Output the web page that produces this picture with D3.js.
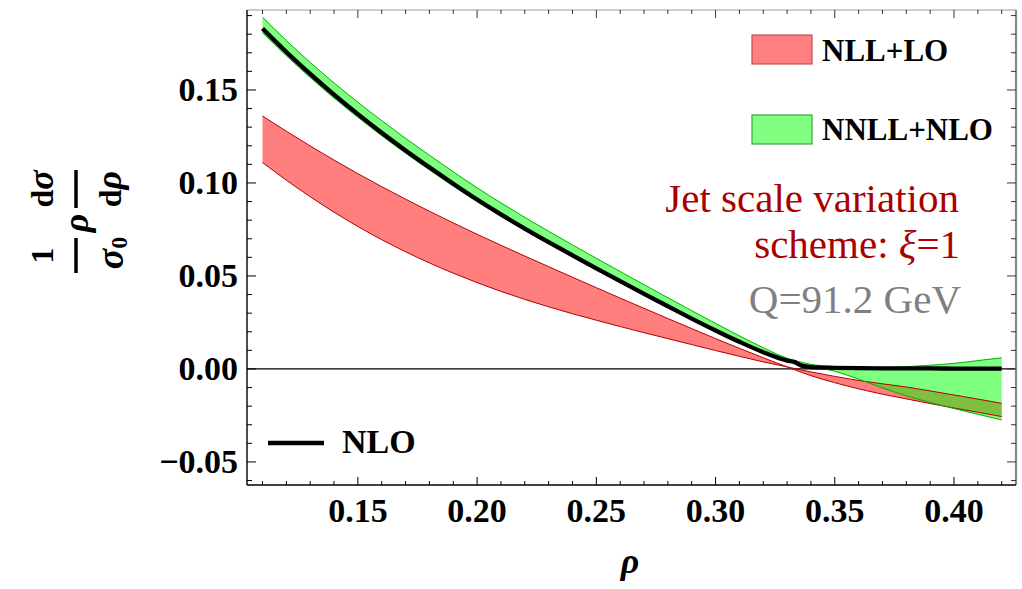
<!DOCTYPE html>
<html><head><meta charset="utf-8">
<script src="https://cdn.jsdelivr.net/npm/d3@7"></script>
<style>body{margin:0;background:#fff}svg{display:block}</style>
</head><body><svg id="c" width="1022" height="589"></svg>
<script>
// ---- data ----
const rho = [0.11,0.12,0.13,0.14,0.15,0.16,0.17,0.18,0.19,0.20,0.21,0.22,0.23,0.24,0.25,0.26,0.27,0.28,0.29,0.30,0.31,0.32,0.33,0.34,0.35,0.36,0.37,0.38,0.39,0.40,0.41,0.42];
const nllA = [0.1360,0.1278,0.1199,0.1123,0.1050,0.0980,0.0913,0.0848,0.0785,0.0724,0.0665,0.0607,0.0550,0.0493,0.0437,0.0381,0.0326,0.0271,0.0217,0.0163,0.0111,0.0060,0.0011,-0.0036,-0.0074,-0.0107,-0.0136,-0.0161,-0.0186,-0.0210,-0.0233,-0.0256];
const nllB = [0.1110,0.1015,0.0926,0.0843,0.0766,0.0695,0.0630,0.0570,0.0515,0.0464,0.0417,0.0374,0.0334,0.0297,0.0262,0.0228,0.0195,0.0163,0.0131,0.0099,0.0068,0.0038,0.0011,-0.0016,-0.0040,-0.0062,-0.0080,-0.0097,-0.0118,-0.0140,-0.0162,-0.0185];
const nnllUpper = [0.1892,0.1766,0.1648,0.1538,0.1434,0.1335,0.1240,0.1149,0.1060,0.0974,0.0893,0.0815,0.0740,0.0667,0.0595,0.0524,0.0453,0.0383,0.0313,0.0245,0.0178,0.0114,0.0058,0.0025,0.0012,0.0008,0.0008,0.0012,0.0020,0.0030,0.0045,0.0060];
const nnllLower = [0.1808,0.1684,0.1567,0.1457,0.1353,0.1254,0.1160,0.1070,0.0983,0.0899,0.0820,0.0745,0.0672,0.0602,0.0532,0.0464,0.0397,0.0331,0.0266,0.0202,0.0141,0.0085,0.0040,0.0015,-0.0012,-0.0055,-0.0102,-0.0145,-0.0180,-0.0213,-0.0244,-0.0274];
const nloRho = [0.11,0.12,0.13,0.14,0.15,0.16,0.17,0.18,0.19,0.20,0.21,0.22,0.23,0.24,0.25,0.26,0.27,0.28,0.29,0.30,0.31,0.32,0.33,0.333,0.336,0.34,0.35,0.36,0.37,0.38,0.39,0.40,0.41,0.42];
const nloVal = [0.1830,0.1704,0.1586,0.1475,0.1370,0.1270,0.1175,0.1084,0.0996,0.0911,0.0831,0.0755,0.0682,0.0611,0.0541,0.0472,0.0404,0.0337,0.0271,0.0207,0.0146,0.0090,0.0045,0.0038,0.0018,0.0010,0.0006,0.0004,0.0003,0.0003,0.0003,0.0002,0.0002,0.0002];
const xMajor = [0.15,0.20,0.25,0.30,0.35,0.40];
const xMajorLabels = ["0.15","0.20","0.25","0.30","0.35","0.40"];
const yMajor = [-0.05,0.00,0.05,0.10,0.15];
const yMajorLabels = ["\u22120.05","0.00","0.05","0.10","0.15"];
const xMinor = [0.11,0.12,0.13,0.14,0.16,0.17,0.18,0.19,0.21,0.22,0.23,0.24,0.26,0.27,0.28,0.29,0.31,0.32,0.33,0.34,0.36,0.37,0.38,0.39,0.41,0.42];
const yMinor = [-0.06,-0.04,-0.03,-0.02,-0.01,0.01,0.02,0.03,0.04,0.06,0.07,0.08,0.09,0.11,0.12,0.13,0.14,0.16,0.17,0.18,0.19];
const legendLabels = ["NLL+LO","NNLL+NLO"];
const xDomain = [0.1035, 0.426];
const yDomain = [-0.0624, 0.193];

// ---- layout ----
const L = 247, R = 1016, T = 10, B = 485;
const svg = d3.select("#c");
const x = d3.scaleLinear().domain(xDomain).range([L, R]);
const y = d3.scaleLinear().domain(yDomain).range([B, T]);
const serif = "'Liberation Serif','Times New Roman',serif";

const defs = svg.append("defs");
defs.append("clipPath").attr("id","clip").append("rect").attr("x",L).attr("y",T).attr("width",R-L).attr("height",B-T);
const plot = svg.append("g").attr("clip-path","url(#clip)");

const red = rho.map((r,i)=>({r, a:nllA[i], b:nllB[i]}));
const grn = rho.map((r,i)=>({r, a:nnllUpper[i], b:nnllLower[i]}));
const curve = d3.curveMonotoneX;
const area = d3.area().x(d=>x(d.r)).y0(d=>y(d.a)).y1(d=>y(d.b)).curve(curve);
const lineA = d3.line().x(d=>x(d.r)).y(d=>y(d.a)).curve(curve);
const lineB = d3.line().x(d=>x(d.r)).y(d=>y(d.b)).curve(curve);

// zero line
plot.append("line").attr("x1",L).attr("x2",R).attr("y1",y(0)).attr("y2",y(0)).attr("stroke","#000").attr("stroke-width",1.2);

plot.append("path").datum(red).attr("d",area).attr("fill","rgb(255,0,0)").attr("fill-opacity",0.5);
plot.append("path").datum(grn).attr("d",area).attr("fill","rgb(0,255,0)").attr("fill-opacity",0.5);
[lineA,lineB].forEach(l=>{
  plot.append("path").datum(red).attr("d",l).attr("fill","none").attr("stroke","#b40000").attr("stroke-width",1);
});
[lineA,lineB].forEach(l=>{
  plot.append("path").datum(grn).attr("d",l).attr("fill","none").attr("stroke","#00b000").attr("stroke-width",1);
});
plot.append("path").datum(nloRho.map((r,i)=>({r, v:nloVal[i]})))
  .attr("d", d3.line().x(d=>x(d.r)).y(d=>y(d.v)).curve(curve))
  .attr("fill","none").attr("stroke","#000").attr("stroke-width",4.3).attr("stroke-linejoin","round");

// ---- frame ----
const fr = svg.append("g");
fr.append("line").attr("x1",L).attr("x2",R).attr("y1",T).attr("y2",T).attr("stroke","#999").attr("stroke-width",1.2);
fr.append("line").attr("x1",R).attr("x2",R).attr("y1",T).attr("y2",B).attr("stroke","#888").attr("stroke-width",2.2);
fr.append("line").attr("x1",L).attr("x2",R).attr("y1",B).attr("y2",B).attr("stroke","#000").attr("stroke-width",1.4);
fr.append("line").attr("x1",L).attr("x2",L).attr("y1",T).attr("y2",B).attr("stroke","#000").attr("stroke-width",1.4);

function ticks(vals, len){
  vals.forEach(v=>{
    fr.append("line").attr("x1",x(v)).attr("x2",x(v)).attr("y1",B).attr("y2",B-len).attr("stroke","#000").attr("stroke-width",1);
    fr.append("line").attr("x1",x(v)).attr("x2",x(v)).attr("y1",T).attr("y2",T+len).attr("stroke","#333").attr("stroke-width",1);
  });
}
function yticks(vals, len){
  vals.forEach(v=>{
    fr.append("line").attr("x1",L).attr("x2",L+len).attr("y1",y(v)).attr("y2",y(v)).attr("stroke","#000").attr("stroke-width",1);
    fr.append("line").attr("x1",R).attr("x2",R-len).attr("y1",y(v)).attr("y2",y(v)).attr("stroke","#333").attr("stroke-width",1);
  });
}
ticks(xMajor, 8); ticks(xMinor, 4);
yticks(yMajor, 9); yticks(yMinor, 5);

// tick labels
xMajor.forEach((v,i)=>{
  svg.append("text").attr("x",x(v)).attr("y",522).attr("text-anchor","middle")
    .attr("font-family",serif).attr("font-weight","bold").attr("font-size",34).text(xMajorLabels[i]);
});
yMajor.forEach((v,i)=>{
  svg.append("text").attr("x",238).attr("y",y(v)+11).attr("text-anchor","end")
    .attr("font-family",serif).attr("font-weight","bold").attr("font-size",34).text(yMajorLabels[i]);
});

// x label
svg.append("text").attr("x",630).attr("y",573).attr("text-anchor","middle")
  .attr("font-family",serif).attr("font-weight","bold").attr("font-style","italic").attr("font-size",36).text("\u03C1");

// y label (rotated)
const yl = svg.append("g").attr("transform","translate(76,222) rotate(-90)")
  .attr("font-family",serif).attr("font-weight","bold");
yl.append("line").attr("x1",-51).attr("x2",-16).attr("y1",0).attr("y2",0).attr("stroke","#000").attr("stroke-width",3.5);
yl.append("text").attr("x",-33.5).attr("y",-23).attr("text-anchor","middle").attr("font-size",32).text("1");
const s0 = yl.append("text").attr("x",-31).attr("y",47).attr("text-anchor","middle");
s0.append("tspan").attr("font-size",38).attr("font-style","italic").text("\u03C3");
s0.append("tspan").attr("font-size",24).attr("dy",4).text("0");
yl.append("text").attr("x",-1).attr("y",12).attr("text-anchor","middle").attr("font-size",36).attr("font-style","italic").text("\u03C1");
yl.append("line").attr("x1",14).attr("x2",52).attr("y1",0).attr("y2",0).attr("stroke","#000").attr("stroke-width",3.5);
const dn = yl.append("text").attr("x",33).attr("y",-23).attr("text-anchor","middle").attr("font-size",32);
dn.append("tspan").text("d"); dn.append("tspan").attr("font-style","italic").attr("font-size",36).text("\u03C3");
const dd = yl.append("text").attr("x",33).attr("y",45).attr("text-anchor","middle").attr("font-size",32);
dd.append("tspan").text("d"); dd.append("tspan").attr("font-style","italic").attr("font-size",36).text("\u03C1");

// legend
svg.append("rect").attr("x",752).attr("y",35).attr("width",60).attr("height",29)
  .attr("fill","rgb(255,128,128)").attr("stroke","#c05050").attr("stroke-width",1.2);
svg.append("rect").attr("x",752).attr("y",115).attr("width",60).attr("height",29)
  .attr("fill","rgb(128,255,128)").attr("stroke","#40a040").attr("stroke-width",1.2);
svg.append("text").attr("x",822).attr("y",61).attr("font-family",serif).attr("font-weight","bold").attr("font-size",31).text(legendLabels[0]);
svg.append("text").attr("x",822).attr("y",140).attr("font-family",serif).attr("font-weight","bold").attr("font-size",31).text(legendLabels[1]);

svg.append("line").attr("x1",268).attr("x2",324).attr("y1",443).attr("y2",443).attr("stroke","#000").attr("stroke-width",4.5);
svg.append("text").attr("x",342).attr("y",453).attr("font-family",serif).attr("font-weight","bold").attr("font-size",34).text("NLO");

// annotations
const ann = svg.append("g").attr("font-family",serif).attr("font-size",41).attr("text-anchor","end");
ann.append("text").attr("x",959).attr("y",212).attr("fill","#aa0000").text("Jet scale variation");
const sc = ann.append("text").attr("x",960).attr("y",258).attr("fill","#aa0000");
sc.append("tspan").text("scheme: ");
sc.append("tspan").attr("font-style","italic").text("\u03BE");
sc.append("tspan").text("=1");
ann.append("text").attr("x",961).attr("y",313).attr("fill","#808080").text("Q=91.2 GeV");
</script></body></html>
